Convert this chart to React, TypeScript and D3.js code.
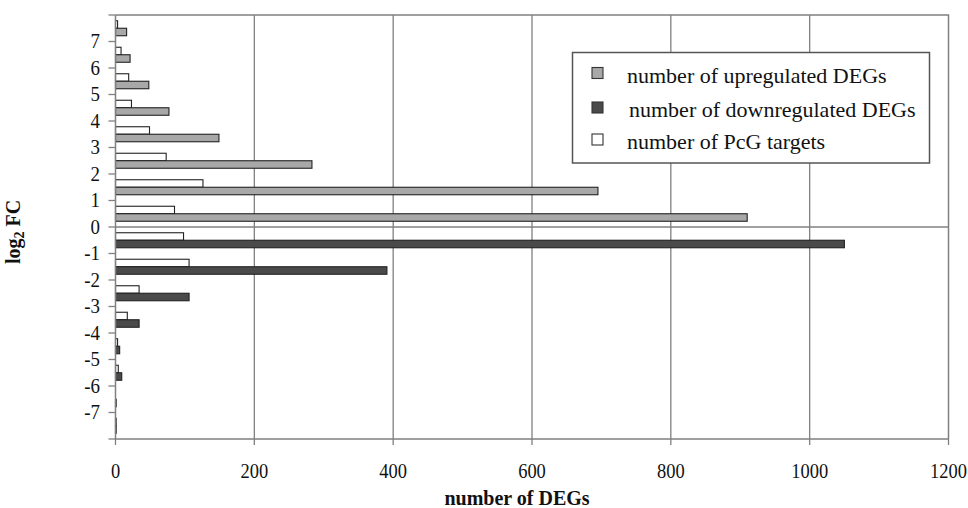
import { useEffect, useRef } from 'react';
import * as d3 from 'd3';

// log2 FC bins, top to bottom
const categories = [
  '7 to 8', '6 to 7', '5 to 6', '4 to 5', '3 to 4', '2 to 3', '1 to 2', '0 to 1',
  '-1 to 0', '-2 to -1', '-3 to -2', '-4 to -3', '-5 to -4', '-6 to -5', '-7 to -6', '-8 to -7',
];
const upregulated = [16, 21, 48, 77, 149, 283, 695, 910];
const downregulated = [1050, 391, 106, 34, 6, 9, 1, 1];
const pcgTargets = [3, 8, 19, 23, 49, 73, 126, 85, 98, 106, 34, 17, 3, 4, 0, 1];
const yTicks = [7, 6, 5, 4, 3, 2, 1, 0, -1, -2, -3, -4, -5, -6, -7];
const xTicks = [0, 200, 400, 600, 800, 1000, 1200];
const legendLabels = ['number of upregulated DEGs', 'number of downregulated DEGs', 'number of PcG targets'];

const W = 968;
const H = 508;
const FONT = '"Liberation Serif", "Times New Roman", serif';
const GREY = '#a8a8a8';
const DARK = '#4a4a4a';
const LINE = '#808080';

export default function App() {
  const svgRef = useRef<SVGSVGElement>(null);

  useEffect(() => {
    if (!svgRef.current) return;
    const svg = d3.select(svgRef.current);
    svg.selectAll('*').remove();

    const left = 115.5, right = 948.5, top = 15, bottom = 439;

    const x = d3.scaleLinear().domain([0, 1200]).range([left, right]);
    const yVal = d3.scaleLinear().domain([8, -8]).range([top, bottom]);
    const y = d3.scaleBand<string>()
      .domain(categories)
      .range([top, bottom])
      .paddingInner(0.434)
      .paddingOuter(0.217);
    const sub = d3.scaleBand<string>().domain(['pcg', 'deg']).range([0, y.bandwidth()]);

    const rows = categories.map((c, i) => ({
      cat: c,
      deg: i < 8 ? upregulated[i] : downregulated[i - 8],
      up: i < 8,
      pcg: pcgTargets[i],
    }));

    svg.append('rect').attr('width', W).attr('height', H).attr('fill', '#fff');

    // vertical gridlines
    svg.append('g')
      .selectAll('line')
      .data(xTicks.slice(1, -1))
      .enter()
      .append('line')
      .attr('x1', d => x(d)).attr('x2', d => x(d))
      .attr('y1', top).attr('y2', bottom)
      .attr('stroke', LINE).attr('stroke-width', 1.3);

    // zero line
    svg.append('line')
      .attr('x1', left).attr('x2', right)
      .attr('y1', yVal(0)).attr('y2', yVal(0))
      .attr('stroke', LINE).attr('stroke-width', 1.3);

    // bars
    const g = svg.append('g');
    g.selectAll('.pcg')
      .data(rows)
      .enter()
      .append('rect')
      .attr('class', 'pcg')
      .attr('x', left)
      .attr('y', d => (y(d.cat) ?? 0) + (sub('pcg') ?? 0))
      .attr('width', d => x(d.pcg) - left)
      .attr('height', sub.bandwidth())
      .attr('fill', '#fff')
      .attr('stroke', '#222')
      .attr('stroke-width', 1.1);

    g.selectAll('.deg')
      .data(rows)
      .enter()
      .append('rect')
      .attr('class', 'deg')
      .attr('x', left)
      .attr('y', d => (y(d.cat) ?? 0) + (sub('deg') ?? 0))
      .attr('width', d => x(d.deg) - left)
      .attr('height', sub.bandwidth())
      .attr('fill', d => (d.up ? GREY : DARK))
      .attr('stroke', '#222')
      .attr('stroke-width', 1.1);

    // plot frame and axes
    svg.append('path')
      .attr('d', `M${left},${top}H${right}V${bottom}`)
      .attr('fill', 'none').attr('stroke', LINE).attr('stroke-width', 1.5);
    svg.append('path')
      .attr('d', `M${left},${top}V${bottom}H${right}`)
      .attr('fill', 'none').attr('stroke', LINE).attr('stroke-width', 1.5);

    // y ticks at every bin boundary
    svg.append('g')
      .selectAll('line')
      .data(d3.range(-8, 9))
      .enter()
      .append('line')
      .attr('x1', left - 7).attr('x2', left)
      .attr('y1', d => yVal(d)).attr('y2', d => yVal(d))
      .attr('stroke', LINE).attr('stroke-width', 1.3);

    svg.append('g')
      .selectAll('text')
      .data(yTicks)
      .enter()
      .append('text')
      .attr('transform', d => `translate(100,${yVal(d) + 6.5}) scale(0.86,1)`)
      .attr('text-anchor', 'end')
      .attr('font-family', FONT)
      .attr('font-size', 22)
      .attr('fill', '#111')
      .text(d => String(d));

    // x ticks
    svg.append('g')
      .selectAll('line')
      .data(xTicks)
      .enter()
      .append('line')
      .attr('x1', d => x(d)).attr('x2', d => x(d))
      .attr('y1', bottom).attr('y2', bottom + 6)
      .attr('stroke', LINE).attr('stroke-width', 1.3);

    svg.append('g')
      .selectAll('text')
      .data(xTicks)
      .enter()
      .append('text')
      .attr('transform', d => `translate(${x(d)},478) scale(0.84,1)`)
      .attr('text-anchor', 'middle')
      .attr('font-family', FONT)
      .attr('font-size', 22)
      .attr('fill', '#111')
      .text(d => String(d));

    // axis titles
    svg.append('text')
      .attr('x', 517).attr('y', 505)
      .attr('text-anchor', 'middle')
      .attr('font-family', FONT)
      .attr('font-size', 20)
      .attr('font-weight', 'bold')
      .attr('fill', '#111')
      .text('number of DEGs');

    const yt = svg.append('text')
      .attr('transform', 'translate(20,232) rotate(-90)')
      .attr('text-anchor', 'middle')
      .attr('font-family', FONT)
      .attr('font-size', 20)
      .attr('font-weight', 'bold')
      .attr('fill', '#111');
    yt.append('tspan').text('log');
    yt.append('tspan').attr('font-size', 14).attr('dy', 4).text('2');
    yt.append('tspan').attr('dy', -4).text(' FC');

    // legend
    const lg = svg.append('g');
    lg.append('rect')
      .attr('x', 572.5).attr('y', 52.5)
      .attr('width', 357).attr('height', 110.5)
      .attr('fill', '#fff')
      .attr('stroke', '#555').attr('stroke-width', 1.5);

    const swatches = [GREY, DARK, '#fff'];
    const baselines = [82.5, 117, 149];
    const textX = [627, 629, 627];
    legendLabels.forEach((label, i) => {
      lg.append('rect')
        .attr('x', 592).attr('y', baselines[i] - 15)
        .attr('width', 11).attr('height', 11)
        .attr('fill', swatches[i])
        .attr('stroke', '#333').attr('stroke-width', 1.1);
      lg.append('text')
        .attr('x', textX[i]).attr('y', baselines[i])
        .attr('font-family', FONT)
        .attr('font-size', 22)
        .attr('fill', '#111')
        .text(label);
    });
  }, []);

  return (
    <svg
      ref={svgRef}
      width={W}
      height={H}
      style={{ position: 'absolute', left: 0, top: 0, display: 'block' }}
    />
  );
}
